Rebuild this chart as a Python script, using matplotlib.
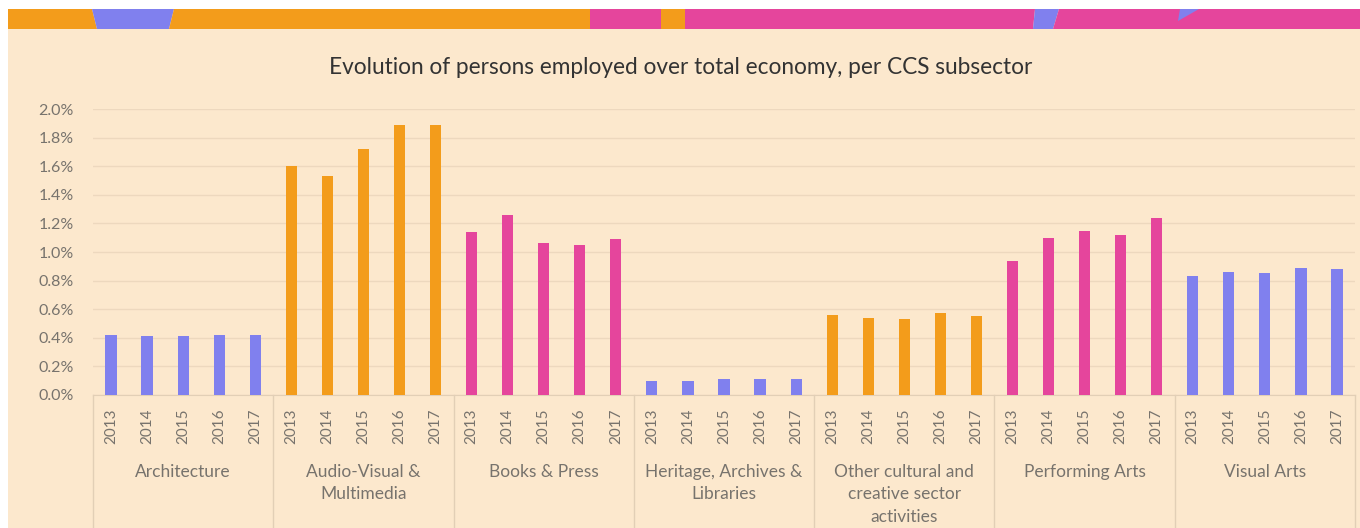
import matplotlib.pyplot as plt
from matplotlib.patches import Polygon, Rectangle

# data
years = ['2013', '2014', '2015', '2016', '2017']
sectors = ['Architecture', 'Audio-Visual &\nMultimedia', 'Books & Press',
           'Heritage, Archives &\nLibraries', 'Other cultural and\ncreative sector\nactivities',
           'Performing Arts', 'Visual Arts']
architecture = [0.42, 0.41, 0.41, 0.42, 0.42]
audio_visual = [1.60, 1.53, 1.72, 1.89, 1.89]
books_press = [1.14, 1.26, 1.06, 1.05, 1.09]
heritage = [0.10, 0.10, 0.11, 0.11, 0.11]
other_ccs = [0.56, 0.54, 0.53, 0.57, 0.55]
performing = [0.94, 1.10, 1.15, 1.12, 1.24]
visual_arts = [0.83, 0.86, 0.85, 0.89, 0.88]
series = [architecture, audio_visual, books_press, heritage, other_ccs, performing, visual_arts]
yticks = [0.0, 0.2, 0.4, 0.6, 0.8, 1.0, 1.2, 1.4, 1.6, 1.8, 2.0]

blue = '#8080EE'
orange = '#F39C1B'
pink = '#E5459C'
sector_colors = [blue, orange, pink, blue, orange, pink, blue]
bg = '#FCE8CD'
text_grey = '#77736D'

W, H = 1360, 528
fig = plt.figure(figsize=(W / 100, H / 100), dpi=100)
fig.patch.set_facecolor('white')

def px(x, y):
    # pixel coords (from top-left) to figure fraction
    return (x / W, 1 - y / H)

# peach panel
fig.patches.append(Rectangle(px(8, 528), (W - 8) / W, (528 - 9) / H,
                             transform=fig.transFigure, facecolor=bg, edgecolor='none', zorder=-5))

# decorative strip at the top
strip = [
    (orange, [(8, 9), (92, 9), (97, 29), (8, 29)]),
    (blue, [(92, 9), (174, 9), (169, 29), (97, 29)]),
    (orange, [(174, 9), (590, 9), (590, 29), (169, 29)]),
    (pink, [(590, 9), (661, 9), (661, 29), (590, 29)]),
    (orange, [(661, 9), (685, 9), (685, 29), (661, 29)]),
    (pink, [(685, 9), (1035, 9), (1033, 29), (685, 29)]),
    (blue, [(1035, 9), (1059, 9), (1053, 29), (1033, 29)]),
    (pink, [(1059, 9), (1360, 9), (1360, 29), (1053, 29)]),
    (blue, [(1180, 9), (1199, 9), (1178, 21)]),
]
for col, pts in strip:
    fig.patches.append(Polygon([px(*p) for p in pts], closed=True, transform=fig.transFigure,
                               facecolor=col, edgecolor='none', zorder=1))

ax = fig.add_axes([93 / W, (528 - 395) / H, (1355 - 93) / W, (395 - 109) / H])
ax.set_facecolor('none')

xs = []
cols = []
vals = []
labels = []
for g, vals_g in enumerate(series):
    for i, v in enumerate(vals_g):
        xs.append(g * len(years) + i)
        vals.append(v)
        cols.append(sector_colors[g])
        labels.append(years[i])

ax.bar(xs, vals, width=0.31, color=cols, zorder=3)

ax.set_xlim(-0.5, len(xs) - 0.5)
ax.set_ylim(0, 2.0)
ax.set_yticks(yticks)
ax.set_yticklabels([f'{t:.1f}%' for t in yticks], fontsize=11.5, color=text_grey, family='Lato')
ax.set_xticks(xs)
ax.set_xticklabels(labels, rotation=90, fontsize=11, color=text_grey, family='Lato')
ax.tick_params(axis='both', length=0)
ax.tick_params(axis='y', pad=14)
ax.tick_params(axis='x', pad=10)
ax.grid(axis='y', color='#EDD8BE', linewidth=1, zorder=0)
for s in ['top', 'right', 'left']:
    ax.spines[s].set_visible(False)
ax.spines['bottom'].set_color('#E2CFB6')

# group separators and category names under the axis
trans = ax.get_xaxis_transform()
n = len(years)
for g in range(len(sectors) + 1):
    ax.plot([g * n - 0.5, g * n - 0.5], [0, -0.47], transform=trans, color='#E2CFB6',
            linewidth=1, clip_on=False)
for g, name in enumerate(sectors):
    ax.text(g * n + (n - 1) / 2, -0.24, name, transform=trans, ha='center', va='top',
            fontsize=12.5, color=text_grey, family='Lato', linespacing=1.5)

fig.text(681 / W, 1 - 68 / H, 'Evolution of persons employed over total economy, per CCS subsector',
         ha='center', va='center', fontsize=16.3, color='#333333', family='Lato')

fig.savefig('out.png', dpi=100)
